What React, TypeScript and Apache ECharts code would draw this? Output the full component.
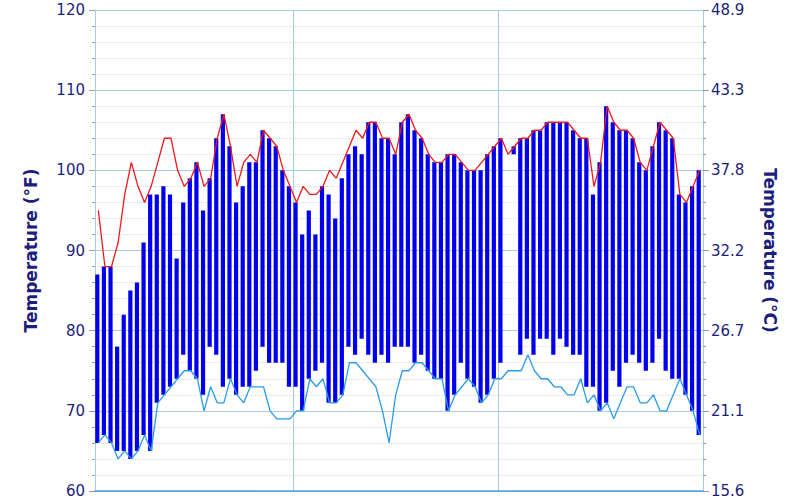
import React, { useEffect, useRef } from 'react'
import * as echarts from 'echarts'

// days of June, July, August
const months: Array<[string, number]> = [['Jun', 30], ['Jul', 31], ['Aug', 31]]
const days: string[] = []
months.forEach(([m, n]) => {
  for (let d = 1; d <= n; d++) days.push(`${m} ${d}`)
})

// daily high (bar top) and low (bar bottom), °F ; null = missing day
const dailyHigh: (number | null)[] = [
  87, 88, 88, 78, 82, 85, 86, 91, 97, 97, 98, 97, 89, 96, 99, 101,
  95, 99, 104, 107, 103, 96, 98, 101, 101, 105, 104, 103, 100, 98,
  96, 92, 95, 92, 98, 97, 94, 99, 102, 103, 102, 106, 106, 104, 104,
  102, 106, 107, 105, 104, 102, 101, 101, 102, 102, 101, 100, 100, 100, 102,
  103, 104, null, 103, 104, 104, 105, 105, 106, 106, 106, 106, 105, 104, 104,
  97, 101, 108, 106, 105, 105, 104, 101, 100, 103, 106, 105, 104, 97, 96, 98, 100,
]
const dailyLow: (number | null)[] = [
  66, 67, 66, 65, 65, 64, 65, 67, 65, 71, 72, 73, 74, 77, 75, 74,
  72, 78, 77, 73, 74, 72, 73, 73, 75, 78, 76, 76, 76, 73,
  73, 70, 74, 75, 76, 71, 71, 72, 78, 77, 79, 77, 76, 77, 76,
  78, 78, 78, 76, 77, 75, 74, 74, 70, 72, 76, 74, 73, 71, 72,
  74, 76, null, 102, 77, 79, 77, 79, 79, 77, 79, 78, 77, 77, 73,
  73, 70, 71, 75, 73, 76, 77, 76, 75, 76, 79, 75, 74, 74, 72, 70, 67,
]
// red line (upper) and light-blue line (lower), °F
const upperLine: number[] = [
  95, 88, 88, 91, 97, 101, 98, 96, 98, 101, 104, 104, 100, 98, 99, 101,
  98, 99, 104, 107, 103, 98, 101, 102, 101, 105, 104, 103, 100, 98,
  96, 98, 97, 97, 98, 100, 99, 101, 103, 105, 104, 106, 106, 104, 104,
  102, 106, 107, 105, 104, 102, 101, 101, 102, 102, 101, 100, 100, 101, 102,
  103, 104, 102, 103, 104, 104, 105, 105, 106, 106, 106, 106, 105, 104, 104,
  98, 101, 108, 106, 105, 105, 104, 101, 100, 103, 106, 105, 104, 97, 96, 98, 100,
]
const lowerLine: number[] = [
  66, 67, 66, 64, 65, 64, 65, 67, 65, 71, 72, 73, 74, 75, 75, 74,
  70, 73, 71, 71, 74, 72, 71, 73, 73, 73, 70, 69, 69, 69,
  70, 70, 74, 73, 74, 71, 71, 72, 76, 76, 75, 74, 73, 70, 66,
  72, 75, 75, 76, 76, 75, 74, 74, 70, 72, 73, 74, 73, 71, 72,
  74, 74, 75, 75, 75, 77, 75, 74, 74, 73, 73, 72, 72, 74, 71,
  72, 70, 71, 69, 71, 73, 73, 71, 71, 72, 70, 70, 72, 74, 72, 70, 67,
]
// left axis ticks in °F, right axis shows the same ticks in °C
const yMin = 60
const yMax = 120
const yStep = 10
// month boundaries (index of first day of July and August)
const monthStarts = [30, 61]

const toC = (f: number) => (((f - 32) * 5) / 9).toFixed(1)

export default function App() {
  const chartRef = useRef<HTMLDivElement>(null)

  useEffect(() => {
    if (!chartRef.current) return
    const chart = echarts.init(chartRef.current, undefined, { renderer: 'svg' })

    const rangeData: Array<[number, number, number]> = []
    dailyHigh.forEach((h, i) => {
      const l = dailyLow[i]
      if (h != null && l != null) rangeData.push([i, l, h])
    })

    const navy = '#1d1d7c'
    const gridBlue = '#a9cbea'
    const yCommon = {
      type: 'value',
      min: yMin,
      max: yMax,
      interval: yStep,
      nameLocation: 'middle',
      nameTextStyle: { color: navy, fontSize: 17, fontWeight: 'bold', fontFamily: 'DejaVu Sans' },
      axisTick: { show: true, length: 6, lineStyle: { color: '#9a9a9a' } },
      minorTick: { show: true, splitNumber: 5, length: 3, lineStyle: { color: '#9a9a9a' } },
    }

    chart.setOption({
      animation: false,
      textStyle: { fontFamily: 'DejaVu Sans' },
      grid: { left: 95, right: 97, top: 10, bottom: 9 },
      xAxis: {
        type: 'category',
        data: days,
        boundaryGap: true,
        axisLabel: { show: false },
        axisTick: { show: false },
        axisLine: { show: true, lineStyle: { color: '#4aa0de', width: 1.5 } },
        splitLine: {
          show: true,
          interval: (idx: number) => monthStarts.includes(idx),
          lineStyle: { color: gridBlue, width: 1 },
        },
      },
      yAxis: [
        {
          ...yCommon,
          name: 'Temperature (°F)',
          nameGap: 56,
          position: 'left',
          axisLine: { show: true, lineStyle: { color: gridBlue } },
          axisLabel: { color: navy, fontSize: 15, margin: 10 },
          splitLine: { show: true, lineStyle: { color: gridBlue, width: 1 } },
          minorSplitLine: { show: true, lineStyle: { color: '#d9d9d9', type: 'dotted', width: 1 } },
        },
        {
          ...yCommon,
          name: 'Temperature (°C)',
          nameGap: 58,
          nameRotate: -90,
          position: 'right',
          axisLine: { show: false },
          axisLabel: { color: navy, fontSize: 15, margin: 8, formatter: (v: number) => toC(v) },
          splitLine: { show: false },
          minorSplitLine: { show: false },
        },
      ],
      series: [
        {
          name: 'Daily range',
          type: 'custom',
          data: rangeData,
          encode: { x: 0, y: [1, 2] },
          renderItem: (params: any, api: any) => {
            const lo = api.coord([api.value(0), api.value(1)])
            const hi = api.coord([api.value(0), api.value(2)])
            const w = 4.2
            return {
              type: 'rect',
              shape: { x: lo[0] - w / 2 - 1, y: hi[1], width: w, height: Math.max(lo[1] - hi[1], 1) },
              style: { fill: '#0000ee' },
            }
          },
          z: 2,
        },
        {
          name: 'Upper',
          type: 'line',
          data: upperLine,
          symbol: 'none',
          lineStyle: { color: '#f01818', width: 1.3 },
          z: 3,
        },
        {
          name: 'Lower',
          type: 'line',
          data: lowerLine,
          symbol: 'none',
          lineStyle: { color: '#2a9be8', width: 1.3 },
          z: 3,
        },
      ],
    })

    return () => {
      chart.dispose()
    }
  }, [])

  return (
    <div
      ref={chartRef}
      style={{ position: 'fixed', left: 0, top: 0, width: 800, height: 500, background: '#fff' }}
    />
  )
}
